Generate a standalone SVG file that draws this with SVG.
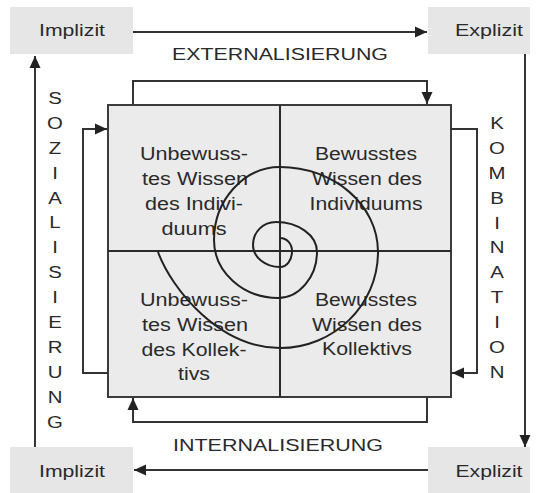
<svg xmlns="http://www.w3.org/2000/svg" width="538" height="493" viewBox="0 0 538 493">
  <style>
    .box { fill: #e6e6e6; stroke: none; }
    .square { fill: #ebebeb; stroke: #3c3c3c; stroke-width: 2; }
    .divider { stroke: #2a2a2a; stroke-width: 2; fill: none; }
    .conn { stroke: #333; stroke-width: 2; fill: none; }
    .spiral { stroke: #222; stroke-width: 2; fill: none; }
    .lbl { font-family: "Liberation Sans", Arial, sans-serif; font-size: 17px; fill: #2a2a2a; }
    .q { font-family: "Liberation Sans", Arial, sans-serif; font-size: 18px; fill: #2a2a2a; text-anchor: middle; }
    .mid { text-anchor: middle; }
  </style>
  <defs>
    <marker id="head" markerUnits="userSpaceOnUse" markerWidth="14" markerHeight="14" viewBox="0 0 14 14" refX="12" refY="7" orient="auto">
      <path d="M0,1.5 L12,7 L0,12.5 Z" fill="#222"/>
    </marker>
  </defs>

  <!-- corner boxes -->
  <g id="implizit-top">
    <rect class="box" x="10" y="7" width="123" height="47"/>
    <text class="lbl mid" x="72" y="36" textLength="66" lengthAdjust="spacingAndGlyphs">Implizit</text>
  </g>
  <g id="explizit-top">
    <rect class="box" x="428" y="7" width="102" height="47"/>
    <text class="lbl mid" x="489" y="36" textLength="68" lengthAdjust="spacingAndGlyphs">Explizit</text>
  </g>
  <g id="implizit-bottom">
    <rect class="box" x="10" y="447" width="123" height="46"/>
    <text class="lbl mid" x="72" y="477" textLength="66" lengthAdjust="spacingAndGlyphs">Implizit</text>
  </g>
  <g id="explizit-bottom">
    <rect class="box" x="428" y="447" width="102" height="46"/>
    <text class="lbl mid" x="489" y="477" textLength="67" lengthAdjust="spacingAndGlyphs">Explizit</text>
  </g>

  <!-- knowledge square with four quadrants -->
  <g id="square">
    <rect class="square" x="108" y="105" width="343" height="292"/>
    <line class="divider" x1="280" y1="105" x2="280" y2="397"/>
    <line class="divider" x1="108" y1="251" x2="451" y2="251"/>
  </g>
  <g id="q-individual-implicit">
    <text class="q" x="194" y="160" textLength="108" lengthAdjust="spacingAndGlyphs">Unbewuss-</text>
    <text class="q" x="195" y="185" textLength="106" lengthAdjust="spacingAndGlyphs">tes Wissen</text>
    <text class="q" x="194" y="210" textLength="98" lengthAdjust="spacingAndGlyphs">des Indivi-</text>
    <text class="q" x="194" y="235" textLength="65" lengthAdjust="spacingAndGlyphs">duums</text>
  </g>
  <g id="q-individual-explicit">
    <text class="q" x="366" y="160" textLength="102" lengthAdjust="spacingAndGlyphs">Bewusstes</text>
    <text class="q" x="367" y="185" textLength="110" lengthAdjust="spacingAndGlyphs">Wissen des</text>
    <text class="q" x="366" y="210" textLength="113" lengthAdjust="spacingAndGlyphs">Individuums</text>
  </g>
  <g id="q-collective-implicit">
    <text class="q" x="194" y="306" textLength="108" lengthAdjust="spacingAndGlyphs">Unbewuss-</text>
    <text class="q" x="195" y="331" textLength="106" lengthAdjust="spacingAndGlyphs">tes Wissen</text>
    <text class="q" x="194" y="356" textLength="105" lengthAdjust="spacingAndGlyphs">des Kollek-</text>
    <text class="q" x="194" y="380" textLength="32" lengthAdjust="spacingAndGlyphs">tivs</text>
  </g>
  <g id="q-collective-explicit">
    <text class="q" x="366" y="306" textLength="102" lengthAdjust="spacingAndGlyphs">Bewusstes</text>
    <text class="q" x="367" y="331" textLength="110" lengthAdjust="spacingAndGlyphs">Wissen des</text>
    <text class="q" x="367" y="355" textLength="90" lengthAdjust="spacingAndGlyphs">Kollektivs</text>
  </g>

  <!-- knowledge spiral -->
  <g id="spiral">
    <path class="spiral" d="M280,238 C287,238 292,244 292,251 C292,260 287,267 280,267 C265,267 253,257 253,245 C253,232 263,222 276,222 C298,222 317,235 317,252 C317,277 299,298 278,298 C243,298 214,272 214,240 C214,200 244,167 280,167 C334,167 378,205 378,252 C378,305 334,348 280,348 C220,348 172,290 158,252"/>
  </g>

  <!-- connectors -->
  <g id="connectors">
    <line class="conn" x1="133" y1="32" x2="427" y2="32" marker-end="url(#head)"/>
    <line class="conn" x1="525" y1="54" x2="525" y2="447" marker-end="url(#head)"/>
    <line class="conn" x1="428" y1="470" x2="134" y2="470" marker-end="url(#head)"/>
    <line class="conn" x1="35" y1="447" x2="35" y2="56" marker-end="url(#head)"/>

    <polyline class="conn" points="133,105 133,81 427,81 427,104" marker-end="url(#head)"/>
    <polyline class="conn" points="451,129 477,129 477,373 452,373" marker-end="url(#head)"/>
    <polyline class="conn" points="427,397 427,422 133,422 133,398" marker-end="url(#head)"/>
    <polyline class="conn" points="108,373 83,373 83,129 107,129" marker-end="url(#head)"/>
  </g>

  <!-- transition labels -->
  <g id="label-externalisierung">
    <text class="lbl mid" x="280" y="60" textLength="216" lengthAdjust="spacingAndGlyphs">EXTERNALISIERUNG</text>
  </g>
  <g id="label-internalisierung">
    <text class="lbl mid" x="278" y="451" textLength="210" lengthAdjust="spacingAndGlyphs">INTERNALISIERUNG</text>
  </g>
  <g id="label-sozialisierung" transform="translate(55,0) scale(1.2,1)">
    <text class="lbl mid" x="0" y="104">S<tspan x="0" dy="24.9">O</tspan><tspan x="0" dy="24.9">Z</tspan><tspan x="0" dy="24.9">I</tspan><tspan x="0" dy="24.9">A</tspan><tspan x="0" dy="24.9">L</tspan><tspan x="0" dy="24.9">I</tspan><tspan x="0" dy="24.9">S</tspan><tspan x="0" dy="24.9">I</tspan><tspan x="0" dy="24.9">E</tspan><tspan x="0" dy="24.9">R</tspan><tspan x="0" dy="24.9">U</tspan><tspan x="0" dy="24.9">N</tspan><tspan x="0" dy="24.9">G</tspan></text>
  </g>
  <g id="label-kombination" transform="translate(497,0) scale(1.2,1)">
    <text class="lbl mid" x="0" y="129">K<tspan x="0" dy="24.9">O</tspan><tspan x="0" dy="24.9">M</tspan><tspan x="0" dy="24.9">B</tspan><tspan x="0" dy="24.9">I</tspan><tspan x="0" dy="24.9">N</tspan><tspan x="0" dy="24.9">A</tspan><tspan x="0" dy="24.9">T</tspan><tspan x="0" dy="24.9">I</tspan><tspan x="0" dy="24.9">O</tspan><tspan x="0" dy="24.9">N</tspan></text>
  </g>
</svg>
